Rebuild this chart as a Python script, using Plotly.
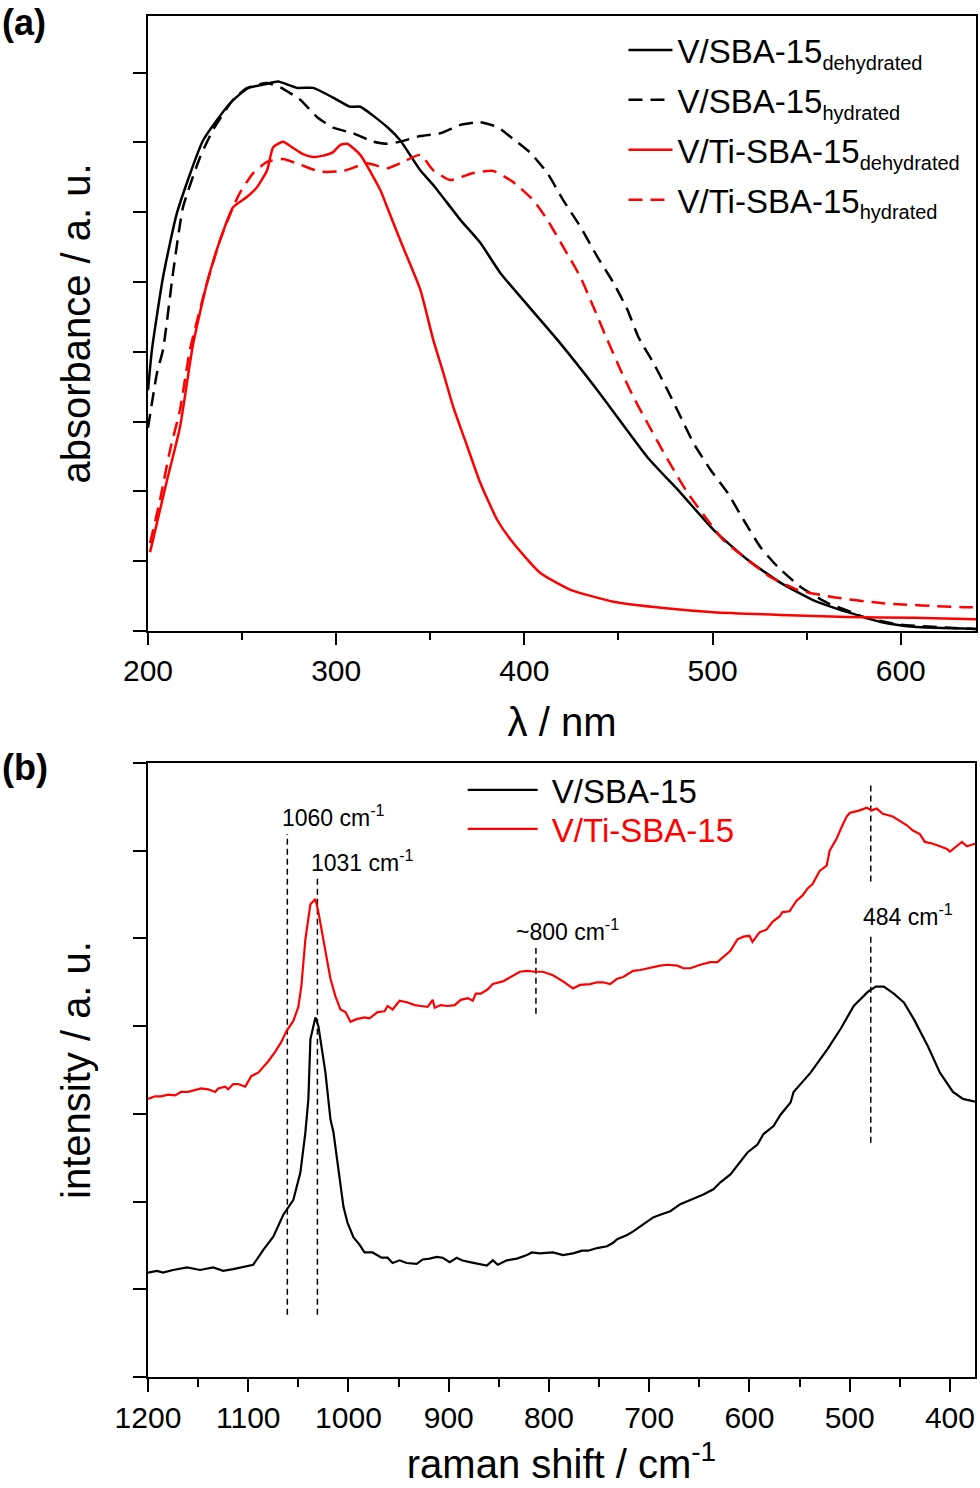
import plotly.graph_objects as go

FONT = "Liberation Sans, Arial, sans-serif"

# ---------------- Panel (a): UV-vis absorbance ----------------
a_vsba_dehyd_x = [200, 202.1, 208, 215.4, 229.3, 243.6, 252.7, 263.3, 269.1, 279.3, 287.8, 298.4, 307.4, 312.8,
                  327.1, 334, 344.7, 351.6, 366, 376.6, 387.2, 417.6, 438.8, 465.4, 483, 500.5, 518.6, 536.2,
                  553.7, 571.8, 589.4, 606.9, 640]
a_vsba_dehyd_y = [3.45, 4.03, 5.07, 5.99, 7.03, 7.56, 7.77, 7.84, 7.87, 7.78, 7.78, 7.64, 7.51, 7.51,
                  7.22, 7.03, 6.60, 6.39, 5.89, 5.56, 5.13, 4.17, 3.45, 2.49, 1.98, 1.45, 1.02, 0.69,
                  0.44, 0.27, 0.13, 0.06, 0.03]

a_vsba_hyd_x = [200, 204.8, 208, 213.3, 218.6, 227.7, 234.6, 245.2, 252.7, 263.3, 270.2, 280.9, 289.9, 298.4,
                309, 319.7, 327.1, 334, 344.7, 355.3, 366, 372.9, 376.6, 385.6, 392.6, 403.2, 412.2, 420.7,
                429.8, 438.8, 447.3, 454.8, 460.6, 468.6, 476.1, 483, 489.9, 498.9, 508, 516.5, 525.5, 534.6,
                546.8, 561.2, 575, 580.3, 600, 640]
a_vsba_hyd_y = [2.91, 3.70, 4.03, 5.13, 6.07, 6.79, 7.18, 7.61, 7.78, 7.85, 7.79, 7.61, 7.36, 7.21,
                7.13, 7.01, 6.98, 7.01, 7.09, 7.13, 7.25, 7.28, 7.29, 7.22, 7.08, 6.85, 6.56, 6.17,
                5.79, 5.36, 4.99, 4.60, 4.21, 3.84, 3.45, 3.07, 2.69, 2.31, 1.98, 1.59, 1.20, 0.92,
                0.63, 0.40, 0.26, 0.20, 0.09, 0.03]

a_vti_dehyd_x = [201.1, 210.1, 217, 223.9, 231.4, 238.3, 245.2, 252.7, 258, 263.3, 266.5, 271.8, 277.1, 282.4,
                 287.8, 293.1, 298.4, 302.1, 305.9, 312.8, 323.4, 327.1, 334, 344.7, 351.6, 356.9, 362.2,
                 369.7, 376.6, 385.6, 394.1, 408.5, 424.5, 447.3, 473.9, 500.5, 536.2, 571.8, 606.9, 640]
a_vti_dehyd_y = [1.13, 2.16, 2.92, 4.10, 4.99, 5.60, 6.07, 6.22, 6.36, 6.60, 6.93, 7.01, 6.92, 6.83,
                 6.79, 6.81, 6.86, 6.96, 6.98, 6.82, 6.32, 6.07, 5.60, 4.89, 4.17, 3.70, 3.21,
                 2.64, 2.12, 1.59, 1.26, 0.83, 0.59, 0.42, 0.33, 0.27, 0.23, 0.20, 0.19, 0.17]

a_vti_hyd_x = [201.1, 206.4, 211.7, 217, 222.3, 231.4, 238.3, 245.2, 248.9, 255.9, 263.3, 271.8, 280.9, 291.5,
               303.7, 316.5, 327.1, 334, 344.7, 351.6, 360.6, 372.9, 383.5, 394.1, 404.8, 412.2, 420.7,
               429.8, 436.7, 444.1, 451.1, 458, 465.4, 472.3, 479.3, 486.7, 497.3, 505.9, 518.6, 530.9,
               545.2, 562.8, 589.4, 633.5, 640]
a_vti_hyd_y = [1.26, 1.88, 2.59, 3.17, 4.03, 4.99, 5.60, 6.07, 6.28, 6.56, 6.72, 6.76, 6.68, 6.58,
               6.59, 6.70, 6.63, 6.70, 6.82, 6.60, 6.46, 6.56, 6.59, 6.43, 6.17, 5.89, 5.50,
               5.07, 4.64, 4.17, 3.74, 3.35, 2.98, 2.64, 2.31, 1.98, 1.59, 1.30, 1.02, 0.77,
               0.59, 0.49, 0.40, 0.34, 0.34]

a_labels = ["V/SBA-15", "V/SBA-15", "V/Ti-SBA-15", "V/Ti-SBA-15"]
a_states = ["dehydrated", "hydrated", "dehydrated", "hydrated"]

# ---------------- Panel (b): Raman ----------------
b_vsba_x = [1200, 1191, 1185, 1175, 1161, 1148, 1135, 1125, 1115, 1101, 1095, 1085, 1075, 1065, 1055, 1048,
            1043, 1040, 1038, 1033, 1030, 1023, 1018, 1015, 1008, 1005, 1001, 995, 989, 984, 976, 967, 961,
            956, 949, 942, 932, 926, 919, 912, 906, 899, 892, 887, 879, 869, 862, 856, 851, 842, 832, 822,
            817, 809, 802, 796, 786, 776, 767, 761, 752, 742, 736, 732, 722, 716, 706, 696, 689, 679, 669,
            656, 646, 636, 629, 619, 609, 602, 592, 586, 576, 569, 559, 556, 539, 522, 509, 496, 482, 474,
            466, 456, 446, 436, 422, 410, 397, 387, 375]
b_vsba_y = [1.19, 1.21, 1.19, 1.22, 1.25, 1.22, 1.25, 1.21, 1.23, 1.26, 1.28, 1.45, 1.60, 1.85, 2.02, 2.33,
            2.79, 3.17, 3.85, 4.10, 4.00, 3.47, 2.94, 2.79, 2.17, 1.94, 1.76, 1.59, 1.51, 1.42, 1.42, 1.36, 1.36,
            1.30, 1.33, 1.30, 1.29, 1.34, 1.35, 1.37, 1.36, 1.31, 1.36, 1.33, 1.31, 1.29, 1.27, 1.33, 1.28,
            1.33, 1.35, 1.39, 1.42, 1.41, 1.42, 1.42, 1.39, 1.41, 1.44, 1.44, 1.47, 1.49, 1.53, 1.57, 1.62,
            1.66, 1.74, 1.82, 1.85, 1.89, 1.97, 2.03, 2.08, 2.14, 2.22, 2.31, 2.45, 2.56, 2.65, 2.77, 2.86,
            2.99, 3.13, 3.25, 3.47, 3.74, 3.97, 4.23, 4.39, 4.45, 4.45, 4.37, 4.27, 4.08, 3.77, 3.47, 3.25,
            3.17, 3.14]

b_vti_x = [1200, 1193, 1187, 1180, 1173, 1167, 1160, 1153, 1147, 1140, 1133, 1130, 1123, 1120, 1115, 1110,
           1103, 1097, 1090, 1080, 1073, 1067, 1062, 1055, 1050, 1047, 1043, 1038, 1033, 1030, 1025, 1018,
           1013, 1008, 1003, 998, 992, 984, 979, 971, 964, 961, 956, 949, 941, 934, 928, 921, 916, 914, 908,
           901, 894, 888, 881, 876, 873, 868, 861, 856, 846, 836, 829, 822, 814, 806, 796, 786, 776, 769,
           759, 752, 746, 739, 732, 726, 716, 709, 702, 696, 689, 682, 672, 666, 659, 649, 639, 632, 626,
           619, 612, 606, 600, 597, 590, 583, 577, 570, 567, 560, 553, 547, 542, 537, 530, 523, 520, 513,
           508, 503, 500, 490, 483, 478, 473, 467, 457, 450, 443, 437, 430, 425, 417, 410, 403, 400, 393,
           388, 383, 375]
b_vti_y = [3.17, 3.20, 3.20, 3.22, 3.21, 3.25, 3.25, 3.27, 3.29, 3.28, 3.25, 3.29, 3.31, 3.28, 3.34, 3.34,
           3.31, 3.43, 3.47, 3.60, 3.71, 3.82, 3.94, 4.06, 4.22, 4.46, 4.99, 5.39, 5.45, 5.30, 4.99, 4.54,
           4.34, 4.19, 4.16, 4.05, 4.08, 4.10, 4.09, 4.16, 4.17, 4.23, 4.19, 4.29, 4.27, 4.24, 4.23, 4.22,
           4.30, 4.21, 4.24, 4.23, 4.24, 4.30, 4.32, 4.29, 4.37, 4.37, 4.42, 4.48, 4.51, 4.57, 4.62, 4.63,
           4.62, 4.62, 4.58, 4.51, 4.43, 4.47, 4.48, 4.50, 4.50, 4.48, 4.54, 4.56, 4.63, 4.64, 4.66, 4.67,
           4.69, 4.70, 4.69, 4.66, 4.66, 4.70, 4.73, 4.73, 4.79, 4.86, 4.99, 5.02, 5.03, 4.96, 5.07, 5.10,
           5.19, 5.25, 5.30, 5.31, 5.43, 5.49, 5.57, 5.62, 5.77, 5.83, 6.00, 6.14, 6.27, 6.39, 6.43, 6.46,
           6.49, 6.46, 6.48, 6.42, 6.39, 6.34, 6.29, 6.23, 6.19, 6.10, 6.08, 6.05, 6.02, 5.99, 6.05, 6.10,
           6.05, 6.08]

b_names = ["V/SBA-15", "V/Ti-SBA-15"]

# peak markers (position, line start, line end) and labels
peak_x = [1061, 1031, 813, 479, 479]
peak_y0 = [0.71, 0.71, 4.14, 2.67, 5.65]
peak_y1 = [6.19, 5.68, 4.89, 5.02, 6.77]
label_text = ["1060 cm<sup>-1</sup>", "1031 cm<sup>-1</sup>", "~800 cm<sup>-1</sup>", "484 cm<sup>-1</sup>"]
label_x = [1068, 1039, 835, 489]
label_y = [6.40, 5.88, 5.10, 5.27]

fig = go.Figure()

styles_a = [("black", "solid"), ("black", "14px,8px"), ("#ff0000", "solid"), ("#ff0000", "14px,8px")]
data_a = [(a_vsba_dehyd_x, a_vsba_dehyd_y), (a_vsba_hyd_x, a_vsba_hyd_y),
          (a_vti_dehyd_x, a_vti_dehyd_y), (a_vti_hyd_x, a_vti_hyd_y)]
for i, ((xs, ys), (c, d)) in enumerate(zip(data_a, styles_a)):
    name = "%s<sub><span style='font-size:20px'>%s</span></sub>" % (a_labels[i], a_states[i])
    fig.add_trace(go.Scatter(x=xs, y=ys, mode="lines", name=name,
                             line=dict(color=c, dash=d, width=2.5, shape="spline", smoothing=0.5),
                             xaxis="x", yaxis="y", legend="legend", legendgroup="a%d" % i))

# vertical dashed markers in (b)
vx, vy = [], []
for px, y0, y1 in zip(peak_x, peak_y0, peak_y1):
    vx += [px, px, None]
    vy += [y0, y1, None]
fig.add_trace(go.Scatter(x=vx, y=vy, mode="lines", line=dict(color="black", width=1.5, dash="6px,4px"),
                         showlegend=False, xaxis="x2", yaxis="y2", hoverinfo="skip"))

fig.add_trace(go.Scatter(x=b_vsba_x, y=b_vsba_y, mode="lines", name="\u00a0" + b_names[0],
                         line=dict(color="black", width=2.2),
                         xaxis="x2", yaxis="y2", legend="legend2"))
fig.add_trace(go.Scatter(x=b_vti_x, y=b_vti_y, mode="lines", name="\u00a0" + b_names[1],
                         line=dict(color="#ff0000", width=2.2),
                         xaxis="x2", yaxis="y2", legend="legend3"))

for t, x, y in zip(label_text, label_x, label_y):
    fig.add_annotation(x=x, y=y, xref="x2", yref="y2", text=t, showarrow=False, xanchor="left", yanchor="middle",
                       font=dict(size=23, color="black", family=FONT))

fig.add_annotation(x=0.0, y=1.0, xref="paper", yref="paper", text="<b>(a)</b>", showarrow=False,
                   xanchor="left", yanchor="top", font=dict(size=36, color="black", family=FONT))
fig.add_annotation(x=0.0, y=0.4993, xref="paper", yref="paper", text="<b>(b)</b>", showarrow=False,
                   xanchor="left", yanchor="top", font=dict(size=36, color="black", family=FONT))

axis_common = dict(showline=True, linecolor="black", linewidth=2, mirror=True, ticks="outside",
                   tickwidth=2, tickcolor="black", showgrid=False, zeroline=False, automargin=False,
                   tickfont=dict(size=30, color="black", family=FONT))

legend_common = dict(xanchor="left", yanchor="top", bgcolor="rgba(0,0,0,0)",
                     font=dict(size=33, color="black", family=FONT))

fig.update_layout(
    width=980, height=1488, margin=dict(l=0, r=0, t=0, b=0),
    paper_bgcolor="white", plot_bgcolor="white",
    font=dict(family=FONT, color="black"),
    xaxis=dict(domain=[0.15102, 0.99592], range=[200, 640], anchor="y", dtick=100, tick0=0, ticklen=12,
               minor=dict(dtick=50, ticklen=7, ticks="outside", tickwidth=2, tickcolor="black", showgrid=False),
               title=dict(text="λ / nm", font=dict(size=40, family=FONT), standoff=22), **axis_common),
    yaxis=dict(domain=[0.57594, 0.98925], range=[0, 8.81], anchor="x", dtick=1, tick0=0, ticklen=13,
               showticklabels=False, title=dict(text="absorbance / a. u.", font=dict(size=40, family=FONT), standoff=30),
               **axis_common),
    xaxis2=dict(domain=[0.15102, 0.99490], range=[1200, 375], anchor="y2", dtick=100, tick0=0, ticklen=13,
                minor=dict(dtick=50, ticklen=8, ticks="outside", tickwidth=2, tickcolor="black", showgrid=False),
                title=dict(text="raman shift / cm<sup>-1</sup>", font=dict(size=40, family=FONT), standoff=17), **axis_common),
    yaxis2=dict(domain=[0.07460, 0.48723], range=[0, 7], anchor="x2", dtick=1, tick0=0, ticklen=13,
                showticklabels=False, title=dict(text="intensity / a. u.", font=dict(size=40, family=FONT), standoff=30),
                **axis_common),
    legend=dict(x=0.6362, y=0.9852, tracegroupgap=4, itemwidth=44, **legend_common),
    legend2=dict(x=0.4721, y=0.4879, itemwidth=70, **legend_common),
    legend3=dict(x=0.4721, y=0.4617, itemwidth=70,
                 font=dict(size=33, color="#ff0000", family=FONT),
                 xanchor="left", yanchor="top", bgcolor="rgba(0,0,0,0)"),
)

fig.write_html("out.html", config={"displayModeBar": False},
               post_script="document.body.style.margin='0px';document.body.style.overflow='hidden';")
